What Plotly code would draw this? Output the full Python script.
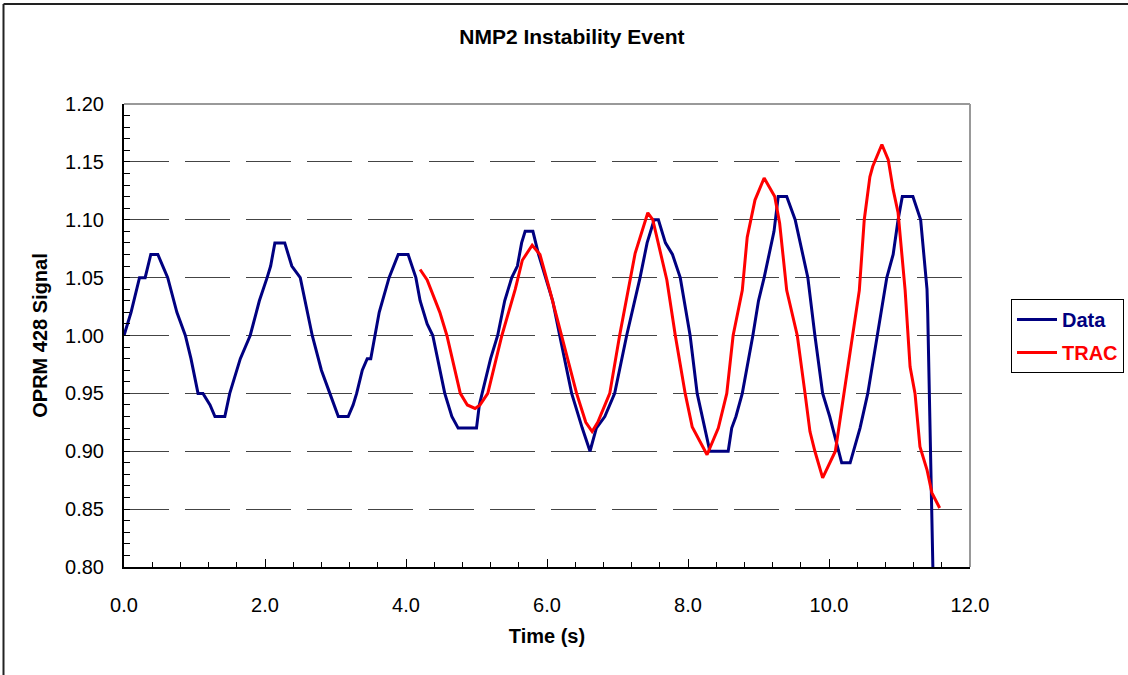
import plotly.graph_objects as go

# ---- data ----
data_t = [0.00, 0.10, 0.22, 0.30, 0.38, 0.48, 0.55, 0.62, 0.75, 0.87, 0.95, 1.05, 1.12, 1.22, 1.29, 1.43,
          1.50, 1.55, 1.65, 1.79, 1.92, 2.03, 2.08, 2.14, 2.28, 2.38, 2.50, 2.67, 2.80, 2.92, 2.98, 3.04,
          3.18, 3.25, 3.30, 3.38, 3.45, 3.50, 3.56, 3.62, 3.76, 3.82, 3.89, 4.03, 4.08, 4.14, 4.20, 4.30,
          4.38, 4.45, 4.55, 4.65, 4.74, 5.00, 5.04, 5.08, 5.20, 5.30, 5.40, 5.50, 5.58, 5.64, 5.69, 5.80,
          5.88, 5.98, 6.08, 6.18, 6.35, 6.50, 6.61, 6.70, 6.82, 6.96, 7.13, 7.32, 7.42, 7.52, 7.58, 7.68,
          7.78, 7.89, 7.95, 8.03, 8.13, 8.20, 8.31, 8.57, 8.62, 8.68, 8.77, 8.92, 9.00, 9.08, 9.15, 9.22,
          9.28, 9.40, 9.52, 9.63, 9.70, 9.80, 9.91, 10.01, 10.10, 10.18, 10.30, 10.35, 10.44, 10.55, 10.68,
          10.82, 10.91, 10.98, 11.04, 11.19, 11.30, 11.36, 11.39, 11.40, 11.43, 11.47, 11.48]
data_v = [1.00, 1.02, 1.05, 1.05, 1.07, 1.07, 1.06, 1.05, 1.02, 1.00, 0.98, 0.95, 0.95, 0.94, 0.93, 0.93,
          0.95, 0.96, 0.98, 1.00, 1.03, 1.05, 1.06, 1.08, 1.08, 1.06, 1.05, 1.00, 0.97, 0.95, 0.94, 0.93,
          0.93, 0.94, 0.95, 0.97, 0.98, 0.98, 1.00, 1.02, 1.05, 1.06, 1.07, 1.07, 1.06, 1.05, 1.03, 1.01,
          1.00, 0.98, 0.95, 0.93, 0.92, 0.92, 0.94, 0.95, 0.98, 1.00, 1.03, 1.05, 1.06, 1.08, 1.09, 1.09,
          1.07, 1.05, 1.03, 1.00, 0.95, 0.92, 0.90, 0.92, 0.93, 0.95, 1.00, 1.05, 1.08, 1.10, 1.10, 1.08,
          1.07, 1.05, 1.03, 1.00, 0.95, 0.93, 0.90, 0.90, 0.92, 0.93, 0.95, 1.00, 1.03, 1.05, 1.07, 1.09,
          1.12, 1.12, 1.10, 1.07, 1.05, 1.00, 0.95, 0.93, 0.91, 0.89, 0.89, 0.90, 0.92, 0.95, 1.00,
          1.05, 1.07, 1.10, 1.12, 1.12, 1.10, 1.06, 1.04, 1.02, 0.93, 0.80, 0.78]

trac_t = [4.20, 4.30, 4.48, 4.58, 4.77, 4.87, 4.98, 5.05, 5.16, 5.36, 5.55, 5.65, 5.79, 5.90, 6.04, 6.21,
          6.42, 6.55, 6.64, 6.72, 6.89, 7.03, 7.15, 7.25, 7.43, 7.50, 7.70, 7.82, 7.96, 8.06, 8.27, 8.43,
          8.55, 8.64, 8.77, 8.84, 8.95, 9.08, 9.23, 9.30, 9.40, 9.55, 9.66, 9.73, 9.80, 9.91, 10.09, 10.26,
          10.34, 10.43, 10.50, 10.58, 10.62, 10.75, 10.84, 10.91, 10.98, 11.08, 11.15, 11.22, 11.29, 11.39,
          11.46, 11.57]
trac_v = [1.057, 1.048, 1.020, 1.000, 0.950, 0.940, 0.937, 0.940, 0.950, 1.000, 1.040, 1.065, 1.078, 1.070,
          1.039, 1.000, 0.950, 0.925, 0.917, 0.925, 0.950, 1.000, 1.039, 1.071, 1.106, 1.100, 1.048, 1.000,
          0.950, 0.921, 0.897, 0.920, 0.950, 1.000, 1.039, 1.085, 1.117, 1.136, 1.120, 1.097, 1.039, 1.000,
          0.950, 0.917, 0.900, 0.877, 0.900, 0.970, 1.000, 1.039, 1.100, 1.137, 1.146, 1.165, 1.152, 1.126,
          1.106, 1.039, 0.973, 0.950, 0.904, 0.884, 0.864, 0.851]

x_ticks = [0, 2, 4, 6, 8, 10, 12]
y_ticks = [0.80, 0.85, 0.90, 0.95, 1.00, 1.05, 1.10, 1.15, 1.20]

NAVY = "#000080"
RED = "#FF0000"
FONT = "Liberation Sans, Arial, sans-serif"

fig = go.Figure()
fig.add_trace(go.Scatter(x=data_t, y=data_v, mode="lines",
                         line=dict(color=NAVY, width=3),
                         name=f"<b><span style='color:{NAVY}'>Data</span></b>",
                         legendgroup="a"))
fig.add_trace(go.Scatter(x=trac_t, y=trac_v, mode="lines",
                         line=dict(color=RED, width=3),
                         name=f"<b><span style='color:{RED}'>TRAC</span></b>",
                         legendgroup="b"))

L, R, T, B = 124, 158, 104, 108
W, H = 1128, 675
pw, ph = W - L - R, H - T - B

def px(xp):
    return (xp - L) / pw

def py(yp):
    return (H - B - yp) / ph

fig.update_layout(
    width=W, height=H,
    margin=dict(l=L, r=R, t=T, b=B, autoexpand=False),
    paper_bgcolor="white", plot_bgcolor="white",
    font=dict(family=FONT, size=20, color="black"),
    title=dict(text="<b>NMP2 Instability Event</b>", x=0.507, xanchor="center",
               y=1 - 37 / H, yanchor="middle", font=dict(size=21, family=FONT)),
    xaxis=dict(range=[0, 12], tickvals=x_ticks, tickformat=".1f",
               showgrid=False, zeroline=False,
               showline=True, linecolor="black", linewidth=2,
               ticks="inside", ticklen=8, tickcolor="black", tickwidth=1,
               ticklabelstandoff=19,
               minor=dict(dtick=0.4, ticks="inside", ticklen=5, tickcolor="black", showgrid=False),
               title=dict(text="<b>Time (s)</b>", standoff=14, font=dict(size=20))),
    yaxis=dict(range=[0.8, 1.2], tickvals=y_ticks, tickformat=".2f",
               showgrid=True, gridcolor="#444444", gridwidth=1, griddash="45px,16px",
               zeroline=False,
               showline=True, linecolor="black", linewidth=2,
               ticks="inside", ticklen=6, tickcolor="black", tickwidth=1,
               ticklabelstandoff=14,
               minor=dict(dtick=0.01, ticks="inside", ticklen=6, tickcolor="black", showgrid=False),
               title=dict(text="<b>OPRM 428 Signal</b>", standoff=12, font=dict(size=20))),
    legend=dict(x=px(1011), y=py(299), xanchor="left", yanchor="top",
                bordercolor="black", borderwidth=1, bgcolor="white",
                font=dict(size=20, family=FONT), tracegroupgap=4, itemwidth=40),
    showlegend=True,
)

# gray top and right frame of plot area
fig.add_shape(type="line", xref="paper", yref="paper", x0=0, x1=1, y0=1, y1=1,
              line=dict(color="#999999", width=2), layer="below")
fig.add_shape(type="line", xref="paper", yref="paper", x0=1, x1=1, y0=0, y1=1,
              line=dict(color="#999999", width=2), layer="below")
# outer chart border (top and left visible)
fig.add_shape(type="line", xref="paper", yref="paper", x0=px(3.5), x1=px(W + 5), y0=py(4), y1=py(4),
              line=dict(color="#222222", width=2))
fig.add_shape(type="line", xref="paper", yref="paper", x0=px(3.5), x1=px(3.5), y0=py(4), y1=py(H + 5),
              line=dict(color="#222222", width=2))

fig.write_html("out.html",
               config={"displayModeBar": False},
               post_script="document.body.style.margin='0';document.body.style.overflow='hidden';")
